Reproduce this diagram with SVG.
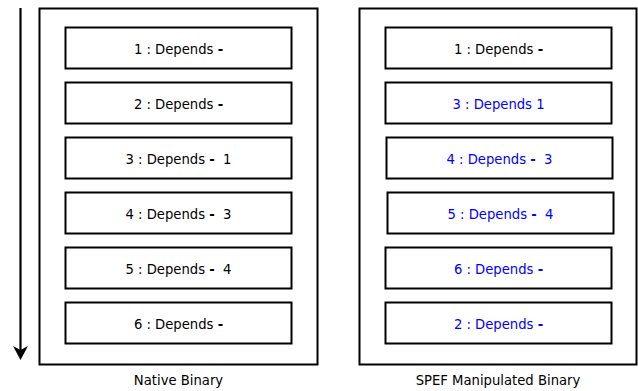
<svg xmlns="http://www.w3.org/2000/svg" width="638" height="391" viewBox="0 0 638 391">
  <style>
    .frame { fill: #ffffff; stroke: #000000; stroke-width: 2; }
    .box { fill: #ffffff; stroke: #000000; stroke-width: 2; }
    .lbl { font-family: "DejaVu Sans", sans-serif; font-size: 13.2px; text-anchor: middle; white-space: pre; fill: #000000; }
    .blue { fill: #0000ff; }
    .cap { font-family: "DejaVu Sans", sans-serif; font-size: 13.2px; text-anchor: middle; fill: #000000; }
    .b { font-weight: bold; }
  </style>
  <rect width="638" height="391" fill="#ffffff"/>

  <!-- execution order arrow -->
  <g id="connectors">
    <line x1="20.5" y1="8" x2="20.5" y2="350" stroke="#000000" stroke-width="2.2"/>
    <path d="M13,346 L20.5,360 L28,346 L20.5,350 Z" fill="#000000"/>
  </g>

  <!-- native binary column -->
  <g id="native">
    <rect class="frame" x="39.5" y="8.5" width="278" height="356"/>
    <g id="n1"><rect class="box" x="65.5" y="27.5" width="226" height="41"/><text class="lbl" x="178.5" y="53.5">1 : Depends <tspan class="b">-</tspan></text></g>
    <g id="n2"><rect class="box" x="65.5" y="82.5" width="226" height="41"/><text class="lbl" x="178.5" y="108.5">2 : Depends <tspan class="b">-</tspan></text></g>
    <g id="n3"><rect class="box" x="65.5" y="137.5" width="226" height="41"/><text class="lbl" x="178.5" y="163.5">3 : Depends <tspan class="b">-</tspan>  1</text></g>
    <g id="n4"><rect class="box" x="65.5" y="192.5" width="226" height="41"/><text class="lbl" x="178.5" y="218.5">4 : Depends <tspan class="b">-</tspan>  3</text></g>
    <g id="n5"><rect class="box" x="65.5" y="247.5" width="226" height="41"/><text class="lbl" x="178.5" y="273.5">5 : Depends <tspan class="b">-</tspan>  4</text></g>
    <g id="n6"><rect class="box" x="65.5" y="302.5" width="226" height="41"/><text class="lbl" x="178.5" y="328.5">6 : Depends <tspan class="b">-</tspan></text></g>
    <text class="cap" x="178.5" y="384.5">Native Binary</text>
  </g>

  <!-- manipulated binary column -->
  <g id="spef">
    <rect class="frame" x="359.5" y="8.5" width="277" height="356"/>
    <g id="s1"><rect class="box" x="385.5" y="27.5" width="226" height="41"/><text class="lbl" x="498.5" y="53.5">1 : Depends <tspan class="b">-</tspan></text></g>
    <g id="s3"><rect class="box" x="385.5" y="82.5" width="226" height="41"/><text class="lbl blue" x="498.5" y="108.5">3 : Depends 1</text></g>
    <g id="s4"><rect class="box" x="386.5" y="137.5" width="226" height="41"/><text class="lbl blue" x="499.5" y="163.5">4 : Depends <tspan class="b">-</tspan>  3</text></g>
    <g id="s5"><rect class="box" x="387.5" y="192.5" width="226" height="41"/><text class="lbl blue" x="500.5" y="218.5">5 : Depends <tspan class="b">-</tspan>  4</text></g>
    <g id="s6"><rect class="box" x="385.5" y="247.5" width="226" height="41"/><text class="lbl blue" x="498.5" y="273.5">6 : Depends <tspan class="b">-</tspan></text></g>
    <g id="s2"><rect class="box" x="385.5" y="302.5" width="226" height="41"/><text class="lbl blue" x="498.5" y="328.5">2 : Depends <tspan class="b">-</tspan></text></g>
    <text class="cap" x="498" y="384.5">SPEF Manipulated Binary</text>
  </g>
</svg>
